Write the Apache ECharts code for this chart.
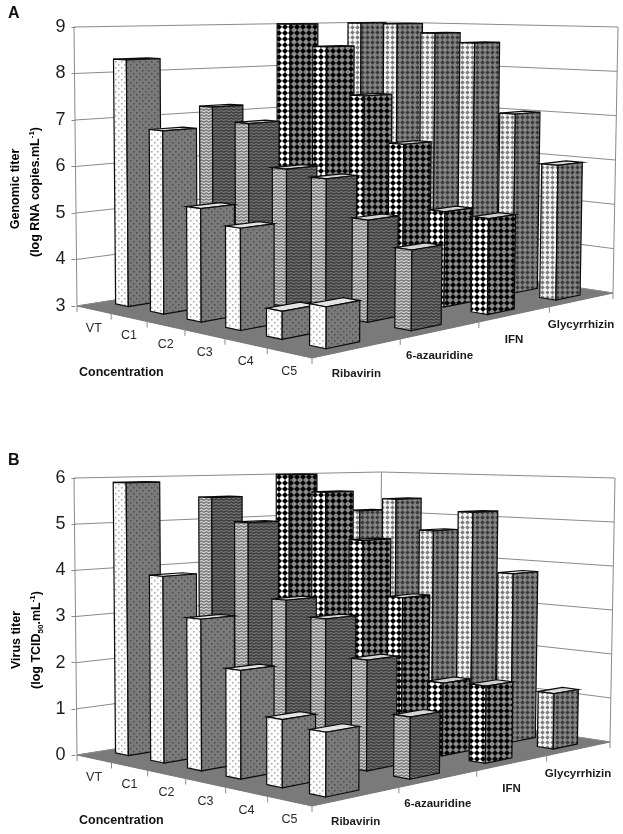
<!DOCTYPE html>
<html><head><meta charset="utf-8">
<style>html,body{margin:0;padding:0;background:#fff}#c{width:623px;height:834px}</style>
<script src="https://cdn.jsdelivr.net/npm/echarts@6/dist/echarts.min.js"></script>
</head><body><div id="c"></div>
<script>
const concentrations = ['VT','C1','C2','C3','C4','C5'];
const drugs = ['Ribavirin','6-azauridine','IFN','Glycyrrhizin'];
const genomicRibavirin    = [8.3,6.85,5.33,5.05,3.55,3.8];
const genomicAzauridine   = [7.17,6.87,5.96,5.85,5.1,4.62];
const genomicIFN          = [9,8.5,7.43,6.42,5.05,5.02];
const genomicGlycyrrhizin = [9,9,8.8,8.6,7.03,5.97];
const virusRibavirin      = [5.9,3.95,3.14,2.2,1.35,1.25];
const virusAzauridine     = [5.52,5.0,3.37,3.06,2.3,1.26];
const virusIFN            = [6,5.62,4.56,3.35,1.58,1.64];
const virusGlycyrrhizin   = [5.08,5.4,4.69,5.17,3.82,1.23];

function tile(w,h,bg,draw){const c=document.createElement('canvas');c.width=w;c.height=h;const g=c.getContext('2d');g.fillStyle=bg;g.fillRect(0,0,w,h);draw(g);return {image:c,repeat:'repeat'};}
function dots(bg,fg){return tile(6,6,bg,g=>{g.fillStyle=fg;g.fillRect(1,1,1.5,1.5);g.fillRect(4,4,1.5,1.5);});}
function zig(bg,fg){return tile(5,3,bg,g=>{g.strokeStyle=fg;g.lineWidth=1.3;g.beginPath();g.moveTo(-1,2.4);g.lineTo(1.25,0.8);g.lineTo(3.75,2.4);g.lineTo(6,0.8);g.stroke();});}
function dia(bg,fg,s,r){return tile(s,s,bg,g=>{g.fillStyle=fg;const m=s/2;g.beginPath();g.moveTo(m,m-r);g.lineTo(m+r,m);g.lineTo(m,m+r);g.lineTo(m-r,m);g.closePath();g.fill();});}
const faces = [
 {light:dots('#fbfbfb','#a8a8a8'),dark:dots('#7a7a7a','#4c4c4c'),top:'#e4e4e4'},
 {light:zig('#d2d2d2','#757575'),dark:zig('#737373','#3c3c3c'),top:'#d4d4d4'},
 {light:dia('#ffffff','#000000',6,3),dark:dia('#8c8c8c','#050505',6,3),top:'#cfcfcf'},
 {light:dia('#f4f4f4','#7a7a7a',5,2.2),dark:dia('#848484','#3a3a3a',5,2.2),top:'#dcdcdc'}
];

function homography(p00,p10,p11,p01){ // u along p00->p10, v along p00->p01
 const dx1=p10[0]-p11[0],dx2=p01[0]-p11[0],sx=p00[0]-p10[0]+p11[0]-p01[0];
 const dy1=p10[1]-p11[1],dy2=p01[1]-p11[1],sy=p00[1]-p10[1]+p11[1]-p01[1];
 const d=dx1*dy2-dx2*dy1,g=(sx*dy2-dx2*sy)/d,h=(dx1*sy-sx*dy1)/d;
 const a=p10[0]-p00[0]+g*p10[0],b=p01[0]-p00[0]+h*p01[0],c=p00[0];
 const e=p10[1]-p00[1]+g*p10[1],f=p01[1]-p00[1]+h*p01[1],i=p00[1];
 return (u,v)=>{const w=g*u+h*v+1;return [(a*u+b*v+c)/w,(e*u+f*v+i)/w];};
}
function makePanel(L,F,R,B,tL,tR,tB){
 const lo=homography(L,F,R,B);
 const iL=1/(L[1]-tL[1]),iR=1/(R[1]-tR[1]),iB=1/(B[1]-tB[1]);
 const iF=iL+iR-iB;
 const slL=(tL[0]-L[0])/(L[1]-tL[1]),slR=(tR[0]-R[0])/(R[1]-tR[1]);
 // vertical vanishing point far below the plot
 const dy=(R[0]-L[0])/(slL*-1+slR);
 const V=[L[0]-slL*dy,L[1]+dy];
 return (u,v,t)=>{
  const p=lo(u,v),H=t/(iL+u*(iF-iL)+v*(iB-iL));
  const sx=(p[0]-V[0])/(V[1]-p[1]);
  return [p[0]+sx*H,p[1]-H];
 };
}
const panels=[
 makePanel([77,306],[312,358],[613,293],[381,258],[74,27],[618,27],[381,22]),
 makePanel([77,755],[312,806],[610,742],[380,707],[74,478],[615,478],[381,472])
];
const DU=0.37/concentrations.length, DV=0.38/drugs.length;

function barRenderer(P,j){
 return function(params,api){
  const cs=params.coordSys,c=api.coord([api.value(0),api.value(1)]);
  const u=(c[0]-cs.x)/cs.width,t=(cs.y+cs.height-c[1])/cs.height,v=(j+.5)/drugs.length;
  const u0=u-DU/2,u1=u+DU/2,v0=v-DV/2,v1=v+DV/2,f=faces[j];
  const s={stroke:'#0c0c0c',lineWidth:1.2};
  return {type:'group',children:[
   {type:'polygon',shape:{points:[P(u0,v0,t),P(u1,v0,t),P(u1,v1,t),P(u0,v1,t)]},style:Object.assign({fill:f.top},s)},
   {type:'polygon',shape:{points:[P(u0,v0,0),P(u1,v0,0),P(u1,v0,t),P(u0,v0,t)]},style:Object.assign({fill:f.light},s)},
   {type:'polygon',shape:{points:[P(u1,v0,0),P(u1,v1,0),P(u1,v1,t),P(u1,v0,t)]},style:Object.assign({fill:f.dark},s)}
  ]};
 };
}
function frameRenderer(P,ticks){
 return function(params,api){
  const cs=params.coordSys,ch=[],gl={stroke:'#8a8a8a',lineWidth:1},n=concentrations.length,m=drugs.length;
  ch.push({type:'polygon',shape:{points:[P(0,0,0),P(1,0,0),P(1,1,0),P(0,1,0)]},style:{fill:'#7a7a7a',stroke:'#777',lineWidth:1}});
  const line=(a,b,st)=>ch.push({type:'line',shape:{x1:a[0],y1:a[1],x2:b[0],y2:b[1]},style:st});
  ticks.forEach(tv=>{
   const y=api.coord([0,tv])[1],t=(cs.y+cs.height-y)/cs.height;
   line(P(0,0,t),P(0,1,t),gl);line(P(0,1,t),P(1,1,t),gl);
  });
  line(P(0,0,0),P(0,0,1),gl);line(P(0,1,0),P(0,1,1),gl);line(P(1,1,0),P(1,1,1),gl);
  for(let i=0;i<=n;i++){const a=P(i/n,0,0);line(a,[a[0],a[1]+6],gl);}
  for(let j=1;j<=m;j++){const a=P(1,j/m,0);line(a,[a[0],a[1]+6],gl);}
  concentrations.forEach((c,i)=>{const a=P((i+.5)/n,0,0);ch.push({type:'text',x:a[0],y:a[1]+18.5,style:{text:c,fill:'#2a2a2a',font:'12.5px "Liberation Sans"',align:'center',verticalAlign:'middle'}});});
  drugs.forEach((d,j)=>{const a=P(1,(j+.5)/m,0);ch.push({type:'text',x:a[0]-1,y:a[1]+25.5,style:{text:d,fill:'#1a1a1a',font:'bold 11.5px "Liberation Sans"',align:'center',verticalAlign:'middle'}});});
  return {type:'group',children:ch};
 };
}
const rangeA=[3,4,5,6,7,8,9],rangeB=[0,1,2,3,4,5,6];
const tableA=[genomicRibavirin,genomicAzauridine,genomicIFN,genomicGlycyrrhizin];
const tableB=[virusRibavirin,virusAzauridine,virusIFN,virusGlycyrrhizin];
function seriesFor(idx,table,ticks){
 const out=[{type:'custom',xAxisIndex:idx,yAxisIndex:idx,silent:true,clip:false,z:1,renderItem:frameRenderer(panels[idx],ticks),data:[[0,ticks[0]]],encode:{x:0,y:1}}];
 for(let j=drugs.length-1;j>=0;j--){
  out.push({type:'custom',name:drugs[j],xAxisIndex:idx,yAxisIndex:idx,silent:true,clip:false,z:2,renderItem:barRenderer(panels[idx],j),data:table[j].map((val,i)=>[i,val]),encode:{x:0,y:1}});
 }
 return out;
}
const yAxisCommon={type:'value',interval:1,splitLine:{show:false},axisLine:{show:false},axisTick:{show:true,length:4,lineStyle:{color:'#8a8a8a'}},axisLabel:{fontSize:18,color:'#1e1e1e',fontFamily:'Liberation Sans',margin:10}};
const rich={a:{fontFamily:'Liberation Sans',fontWeight:'bold',fontSize:12.5,color:'#222',lineHeight:16},
 s:{fontFamily:'Liberation Sans',fontWeight:'bold',fontSize:8,color:'#222',verticalAlign:'top',lineHeight:16},
 b:{fontFamily:'Liberation Sans',fontWeight:'bold',fontSize:8,color:'#222',verticalAlign:'bottom',lineHeight:14}};
function gText(x,y,text){return {type:'text',x:x,y:y,rotation:Math.PI/2,silent:true,style:{text:text,rich:rich,align:'center',verticalAlign:'middle'}};}
function plain(x,y,text,font){return {type:'text',x:x,y:y,silent:true,style:{text:text,font:font,fill:'#111',align:'left',verticalAlign:'middle'}};}
const chart=echarts.init(document.getElementById('c'));
chart.setOption({
 animation:false,backgroundColor:'#fff',
 grid:[{left:75.5,top:27,width:537,height:279},{left:75.5,top:478,width:537,height:277}],
 xAxis:[{type:'category',gridIndex:0,data:concentrations,show:false},{type:'category',gridIndex:1,data:concentrations,show:false}],
 yAxis:[Object.assign({gridIndex:0,min:3,max:9},yAxisCommon),Object.assign({gridIndex:1,min:0,max:6},yAxisCommon)],
 series:seriesFor(0,tableA,rangeA).concat(seriesFor(1,tableB,rangeB)),
 graphic:[
  plain(8,14,'A','bold 16px "Liberation Sans"'),plain(8,461,'B','bold 16px "Liberation Sans"'),
  plain(79,372.5,'Concentration','bold 12.5px "Liberation Sans"'),plain(79,821,'Concentration','bold 12.5px "Liberation Sans"'),
  gText(16,189,'{a|Genomic titer}'),gText(36,192,'{a|(log RNA copies.mL}{s|-1}{a|)}'),
  gText(17,640,'{a|Virus titer}'),gText(37,640,'{a|(log TCID}{b|50}{a|.mL}{s|-1}{a|)}')
 ]
});
</script></body></html>
